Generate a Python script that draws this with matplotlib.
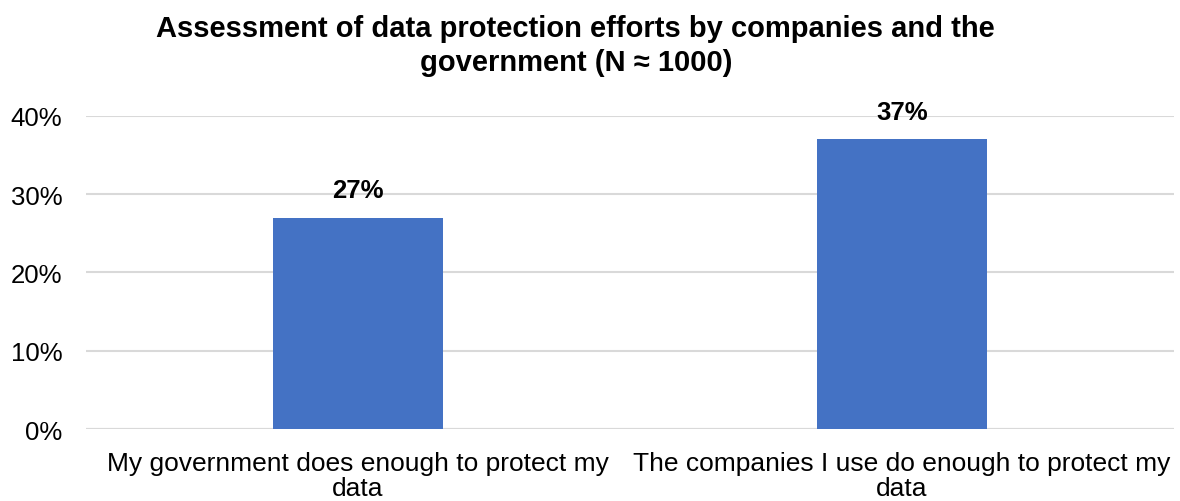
import matplotlib.pyplot as plt
from matplotlib.ticker import PercentFormatter

categories = ["My government does enough to protect my\ndata",
              "The companies I use do enough to protect my\ndata"]
values = [27, 37]
yticks = [0, 10, 20, 30, 40]

plt.rcParams["font.family"] = ["Liberation Sans", "DejaVu Sans"]

fig = plt.figure(figsize=(11.8, 5.02), dpi=100)
ax = fig.add_axes([0.0729, 0.1434, 0.9221, 0.6236])

x = range(len(categories))
ax.bar(x, values, width=0.3125, color="#4472C4", zorder=3)
for xi, v in zip(x, values):
    ax.annotate(f"{v}%", (xi, v), xytext=(0, 11), textcoords="offset points",
                ha="center", va="bottom", fontsize=18.5, fontweight="bold", zorder=4)

ax.set_xlim(-0.5, 1.5)
ax.set_ylim(0, 40)
ax.set_yticks(yticks)
ax.yaxis.set_major_formatter(PercentFormatter(decimals=0))
ax.set_xticks(list(x))
ax.set_xticklabels(categories, fontsize=19, linespacing=1.05)
ax.tick_params(axis="y", labelsize=18.5, length=0, pad=17)
ax.tick_params(axis="x", length=0, pad=16)
ax.grid(axis="y", color="#d9d9d9", linewidth=1.5, zorder=0)
for s in ax.spines.values():
    s.set_visible(False)
ax.axhline(0, color="#d9d9d9", linewidth=1.5, zorder=2)

fig.text(0.488, 1 - 15 / 502, "Assessment of data protection efforts by companies and the\ngovernment (N \u2248 1000)",
         ha="center", va="top", fontsize=21, fontweight="bold", linespacing=1.27)

fig.savefig("out.png", dpi=100)
